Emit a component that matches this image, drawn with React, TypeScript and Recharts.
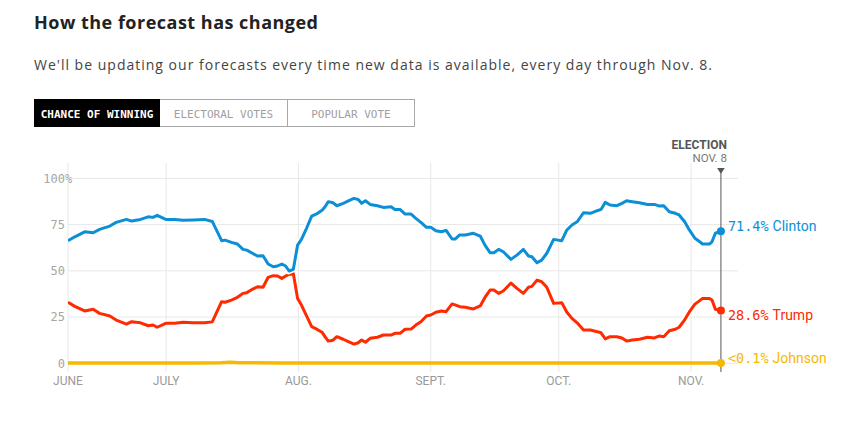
import React from 'react';
import { LineChart, Line, XAxis, YAxis, CartesianGrid, ReferenceLine, ReferenceDot } from 'recharts';

// day index 0 = June 8, 2016
const days = [0,1.6,3.9,5.9,7.4,9.8,11.3,13.7,14.9,17,18.8,19.9,20.9,22.9,25,27,29.3,32,33.8,36,36.8,38.3,39.7,41,41.9,43.2,44.4,45.7,46.9,48.1,49.1,50.1,51,51.8,52.8,53.8,54.7,55.9,57.1,58.5,59.6,60.2,61,62.1,63,64.5,65.7,67,68,68.8,69.7,70.8,72.5,73.9,75.7,76.6,77.8,79,80.4,81.5,82.7,84,85,86.2,87.5,88.6,90,90.7,91.8,93.1,95,96.6,97.7,98.9,99.8,100.9,102,103.8,105.2,106.7,107.9,108.7,109.9,111,112.2,113.8,115.7,116.9,118.1,119.3,120.8,122.4,124,124.9,125.9,127,128.6,129.8,130.9,132.2,133.9,135.8,137.4,138.6,139.6,140.9,142.3,143.2,144.5,145.6,146.9,147.8,148.7,150.3,150.9,151.7,153];

const clinton = [66.3,68.4,71.1,70.6,72.4,74.2,76.2,77.8,76.9,77.8,79.2,78.9,80,77.8,77.8,77.3,77.5,77.8,76.7,66.3,66.6,65.4,64.5,61.6,61.2,59.5,58,58.2,53.7,52.2,52.6,53.7,52.6,49.9,50.8,63.9,67,73,79.6,81.1,82.9,84.5,87.4,86.8,85.2,86.5,87.8,89.2,88.6,86.5,87.9,85.9,85.2,84.3,84.6,83.2,83.2,80.7,80.7,78.4,76.2,73.5,73.5,71.7,71.1,71.9,67.2,67.2,69.4,69.4,70.3,68.8,63.9,59.8,59.8,61.6,60.3,56.2,58.5,61.6,58,57.6,54.4,55.8,59.5,67,66.3,72.1,74.8,76.5,81.4,81.1,82.5,83.2,87,85.6,85.2,86.5,87.9,87.4,86.8,85.9,85.9,85,85.2,81.9,81.1,80.2,76.5,72.1,67.6,66.1,64.5,64.5,65.7,70.3,71.4];

const trump = [33,30.8,28.3,29.2,27,25.6,23.4,21.2,22.5,21.9,20.3,20.7,19.5,21.6,21.6,22.2,21.9,21.9,22.4,33.3,33,34.2,35.7,37.8,38.2,40,41.4,41.1,46.5,47.4,47.2,45.9,47.2,48.1,48.6,35.1,31.5,25.6,19.8,18.2,16.6,14.4,12,12.5,14.4,13,11.7,10.4,11.1,12.6,11.4,13.5,14.1,15.3,15.3,16.2,16.2,18.4,18.5,20.7,22.5,25.6,26.1,27.6,28.3,27.9,32.1,31.6,30.6,30.3,29.4,31,35.6,39.6,39.6,37.8,39.1,43.4,40.5,37.8,41.1,41.6,45,44.1,41.1,32.4,32.8,27.6,24.3,21.9,18,18,17.1,16.5,13.2,14.4,14.4,13.7,12,12.6,13,14.1,13.7,14.8,14.4,17.6,18.4,19.5,23.5,27.8,32,33.5,35.1,35.1,34.2,29.2,28.6];

const johnsonDays = [0, 30, 36, 38, 40, 50, 80, 120, 153];
const johnson = [0.2, 0.2, 0.3, 0.6, 0.3, 0.2, 0.2, 0.1, 0.1];

const xTickDays = [0, 23, 54, 85, 115, 146];
const xTickLabels = ['JUNE', 'JULY', 'AUG.', 'SEPT.', 'OCT.', 'NOV.'];
const yTicks = [0, 25, 50, 75, 100];
const electionDay = 153;

const tabs = ['CHANCE OF WINNING', 'ELECTORAL VOTES', 'POPULAR VOTE'];

const BLUE = '#0b8fd6';
const RED = '#ff2a00';
const YELLOW = '#f6b800';

const data = days.map((d, i) => ({ day: d, clinton: clinton[i], trump: trump[i] }));
const johnsonData = johnsonDays.map((d, i) => ({ day: d, johnson: johnson[i] }));

const last = days.length - 1;

const XTick = (props: any) => {
  const { x, y, payload } = props;
  const idx = xTickDays.indexOf(payload.value);
  return (
    <text x={x} y={y} dy="0.35em" textAnchor="middle" fontFamily="Roboto" fontSize={12} fill="#999">
      {xTickLabels[idx]}
    </text>
  );
};

const YTick = (props: any) => {
  const { x, y, payload } = props;
  return (
    <g>
      <text x={x} y={y} dy="0.35em" textAnchor="end" fontFamily="DejaVu Sans Mono" fontSize={12} fill="#a6a6a6">
        {payload.value}
      </text>
      {payload.value === 100 ? (
        <text x={x} y={y} dy="0.35em" textAnchor="start" fontFamily="DejaVu Sans Mono" fontSize={12} fill="#a6a6a6">%</text>
      ) : null}
    </g>
  );
};

const endLabel = (color: string, num: string, name: string, offset: number) => (props: any) => {
  const { cx, cy } = props;
  if (cx == null || cy == null) return <g />;
  return (
    <g>
      <circle cx={cx} cy={cy} r={4} fill={color} />
      <text x={cx + 7} y={cy + offset} dominantBaseline="central" fill={color}>
        <tspan fontFamily="DejaVu Sans Mono" fontSize={13.5}>{num}</tspan>
        <tspan fontFamily="Roboto" fontSize={14} dx={4}>{name}</tspan>
      </text>
    </g>
  );
};

const electionMarker = (props: any) => {
  const { cx, cy } = props;
  if (cx == null || cy == null) return <g />;
  return (
    <g>
      <text x={cx + 6} y={cy - 14} textAnchor="end" fontFamily="Roboto" fontWeight={700} fontSize={12} fill="#555">ELECTION</text>
      <text x={cx + 6} y={cy - 1.5} textAnchor="end" fontFamily="Roboto" fontSize={11.5} fill="#777">NOV. 8</text>
      <path d={`M${cx - 3.8},${cy + 5} L${cx + 3.8},${cy + 5} L${cx},${cy + 11} Z`} fill="#555" />
    </g>
  );
};

const vGen = (p: any) => {
  const s = p?.xAxis?.scale;
  if (!s) return [];
  const f = typeof s === 'function' ? s : s.map ? (v: number) => s.map(v) : null;
  return f ? xTickDays.map((d) => f(d)) : [];
};

const hGen = (p: any) => {
  const s = p?.yAxis?.scale;
  if (!s) return [];
  const f = typeof s === 'function' ? s : s.map ? (v: number) => s.map(v) : null;
  return f ? yTicks.map((d) => f(d)) : [];
};

export default function App() {
  const tabX = [34, 160, 287, 415];
  return (
    <div style={{ position: 'absolute', left: 0, top: 0, width: 863, height: 428, background: '#fff' }}>
      <svg width={863} height={130} style={{ position: 'absolute', left: 0, top: 0 }}>
        <text x={34} y={29} fontFamily="Open Sans" fontWeight={700} fontSize={18} fill="#222" textLength={284} lengthAdjust="spacing">
          How the forecast has changed
        </text>
        <text x={34} y={70} fontFamily="Open Sans" fontSize={14} fill="#444" textLength={678} lengthAdjust="spacing">
          We'll be updating our forecasts every time new data is available, every day through Nov. 8.
        </text>
        <rect x={34.5} y={99.5} width={380} height={27} fill="#fff" stroke="#a8a8a8" />
        <rect x={34} y={99} width={126} height={28} fill="#000" />
        <line x1={287.5} y1={99.5} x2={287.5} y2={126.5} stroke="#a8a8a8" />
        {tabs.map((t, i) => (
          <text
            key={t}
            x={(tabX[i] + tabX[i + 1]) / 2}
            y={118}
            textAnchor="middle"
            fontFamily="DejaVu Sans Mono"
            fontSize={11}
            fontWeight={i === 0 ? 700 : 400}
            fill={i === 0 ? '#fff' : '#a0a0a0'}
          >
            {t}
          </text>
        ))}
      </svg>
      <div style={{ position: 'absolute', left: 0, top: 130 }}>
        <LineChart width={863} height={280} data={data} margin={{ top: 33, right: 125, bottom: 8, left: 0 }}>
          <CartesianGrid
            stroke="#e8e8e8"
            strokeWidth={1}
            verticalCoordinatesGenerator={vGen}
            horizontalCoordinatesGenerator={hGen}
          />
          <XAxis
            type="number"
            dataKey="day"
            domain={[0, 157]}
            ticks={xTickDays}
            allowDataOverflow
            axisLine={false}
            tickLine={false}
            tickSize={0}
            tickMargin={9}
            height={30}
            tick={XTick}
            interval={0}
          />
          <YAxis
            type="number"
            domain={[-4.7, 108.3]}
            ticks={yTicks}
            allowDataOverflow
            axisLine={false}
            tickLine={false}
            tickSize={0}
            tickMargin={3}
            width={68}
            tick={YTick}
            interval={0}
          />
          <ReferenceLine
            segment={[{ x: electionDay, y: 102.8 }, { x: electionDay, y: -4.7 }]}
            stroke="#555"
            strokeWidth={1}
            ifOverflow="visible"
          />
          <Line data={johnsonData} dataKey="johnson" type="linear" stroke={YELLOW} strokeWidth={3.5} dot={false} activeDot={false} isAnimationActive={false} />
          <Line dataKey="trump" type="linear" stroke="#fff" strokeWidth={6} dot={false} activeDot={false} isAnimationActive={false} />
          <Line dataKey="trump" type="linear" stroke={RED} strokeWidth={3} dot={false} activeDot={false} isAnimationActive={false} strokeLinejoin="round" />
          <Line dataKey="clinton" type="linear" stroke="#fff" strokeWidth={6} dot={false} activeDot={false} isAnimationActive={false} />
          <Line dataKey="clinton" type="linear" stroke={BLUE} strokeWidth={3} dot={false} activeDot={false} isAnimationActive={false} strokeLinejoin="round" />
          <ReferenceDot x={electionDay} y={108.3} r={0} ifOverflow="visible" shape={electionMarker} />
          <ReferenceDot
            x={days[last]}
            y={clinton[last]}
            r={4}
            ifOverflow="visible"
            shape={endLabel(BLUE, `${clinton[last].toFixed(1)}%`, 'Clinton', -5)}
          />
          <ReferenceDot
            x={days[last]}
            y={trump[last]}
            r={4}
            ifOverflow="visible"
            shape={endLabel(RED, `${trump[last].toFixed(1)}%`, 'Trump', 5)}
          />
          <ReferenceDot
            x={johnsonDays[johnsonDays.length - 1]}
            y={johnson[johnson.length - 1]}
            r={4}
            ifOverflow="visible"
            shape={endLabel(YELLOW, `<${johnson[johnson.length - 1].toFixed(1)}%`, 'Johnson', -5)}
          />
        </LineChart>
      </div>
    </div>
  );
}
